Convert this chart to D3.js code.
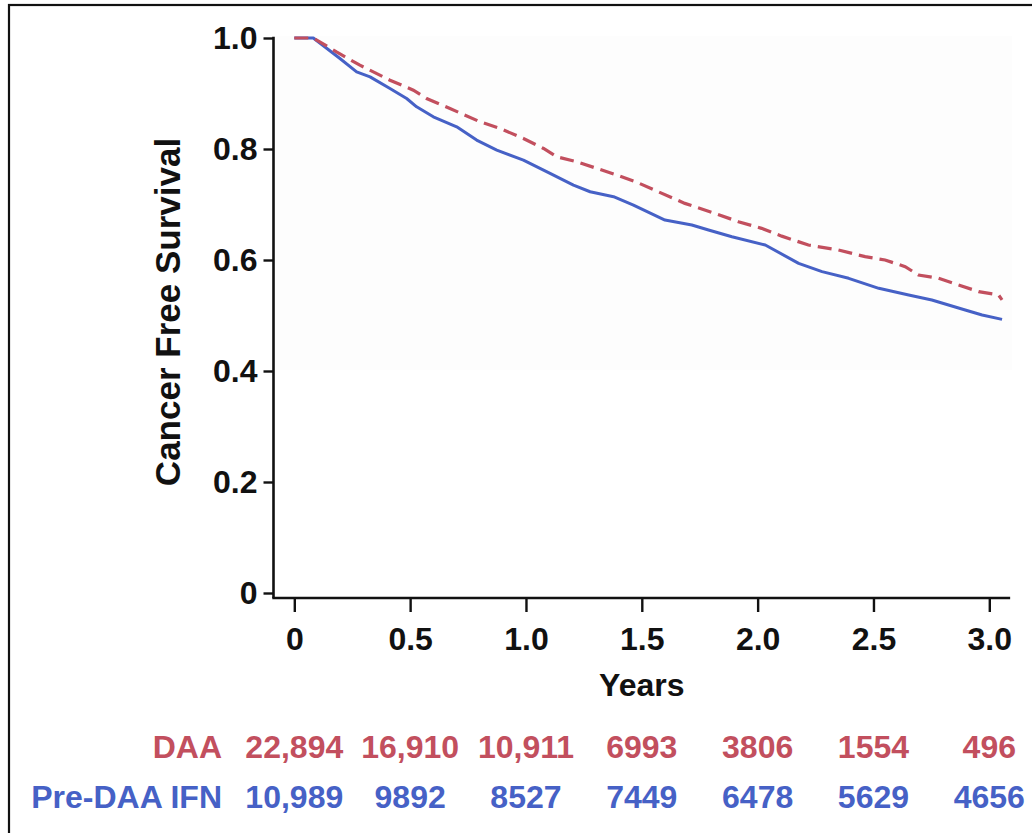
<!DOCTYPE html>
<html>
<head>
<meta charset="utf-8">
<script src="https://cdn.jsdelivr.net/npm/d3@7/dist/d3.min.js"></script>
<style>
  html, body { margin: 0; padding: 0; background: #fff; }
  svg { display: block; font-family: "Liberation Sans", Arial, Helvetica, sans-serif; font-weight: bold; }
</style>
</head>
<body>
<svg id="chart" width="1032" height="833"></svg>
<script>
// Kaplan-Meier cancer-free survival, DAA vs. pre-DAA interferon cohorts
const groups = ["DAA", "Pre-DAA IFN"];
const groupColors = ["#c24f5e", "#4661c6"];

// DAA curve: years, survival
const daaTime = [0, 0.082, 0.182, 0.283, 0.413, 0.514, 0.571, 0.672, 0.802, 0.888, 0.989, 1.076, 1.133, 1.220, 1.306, 1.392, 1.479, 1.571, 1.686, 1.816, 1.917, 2.017, 2.104, 2.219, 2.349, 2.464, 2.550, 2.637, 2.694, 2.781, 2.867, 2.954, 3.040, 3.055];
const daaSurv = [1.0, 1.0, 0.975, 0.951, 0.924, 0.906, 0.891, 0.873, 0.849, 0.837, 0.819, 0.801, 0.786, 0.777, 0.765, 0.753, 0.740, 0.723, 0.702, 0.684, 0.669, 0.657, 0.643, 0.627, 0.618, 0.606, 0.600, 0.588, 0.573, 0.567, 0.555, 0.543, 0.537, 0.528];

// Pre-DAA IFN curve: years, survival
const ifnTime = [0, 0.082, 0.197, 0.269, 0.327, 0.413, 0.485, 0.528, 0.600, 0.701, 0.787, 0.874, 0.989, 1.104, 1.205, 1.277, 1.378, 1.464, 1.600, 1.716, 1.788, 1.889, 2.033, 2.177, 2.278, 2.393, 2.523, 2.652, 2.752, 2.896, 2.969, 3.055];
const ifnSurv = [1.0, 1.0, 0.963, 0.939, 0.930, 0.909, 0.891, 0.876, 0.858, 0.840, 0.816, 0.798, 0.780, 0.756, 0.735, 0.723, 0.714, 0.699, 0.672, 0.663, 0.654, 0.642, 0.627, 0.594, 0.579, 0.567, 0.549, 0.537, 0.528, 0.510, 0.501, 0.493];

// Axis ticks
const xTicks = [0, 0.5, 1.0, 1.5, 2.0, 2.5, 3.0];
const xTickLabels = ["0", "0.5", "1.0", "1.5", "2.0", "2.5", "3.0"];
const yTicks = [0, 0.2, 0.4, 0.6, 0.8, 1.0];
const yTickLabels = ["0", "0.2", "0.4", "0.6", "0.8", "1.0"];

// Numbers at risk at each x tick
const daaAtRisk = ["22,894", "16,910", "10,911", "6993", "3806", "1554", "496"];
const ifnAtRisk = ["10,989", "9892", "8527", "7449", "6478", "5629", "4656"];

const svg = d3.select("#chart");

// frame
svg.append("rect")
  .attr("x", 9).attr("y", 5).attr("width", 1100).attr("height", 900)
  .attr("fill", "none").attr("stroke", "#111").attr("stroke-width", 2.2);

const x = d3.scaleLinear().domain([0, 3]).range([294.3, 989.3]);
const y = d3.scaleLinear().domain([0, 1]).range([593, 38]);
const axisX0 = 273.5;      // y-axis position
const axisY0 = 598;        // x-axis position
const xEnd = 3.09;

// faint plot-area tint
svg.append("rect")
  .attr("x", axisX0 + 2).attr("y", 36)
  .attr("width", x(xEnd) - axisX0).attr("height", 334)
  .attr("fill", "#fdfdfd");

// y axis
const yAxis = d3.axisLeft(y).tickValues(yTicks)
  .tickFormat((d, i) => yTickLabels[i]).tickSize(10).tickPadding(6);
const gy = svg.append("g").attr("transform", `translate(${axisX0},0)`).call(yAxis);
gy.select(".domain").remove();
gy.append("line").attr("x1", 0).attr("x2", 0).attr("y1", y(1) - 1.2).attr("y2", axisY0)
  .attr("stroke", "#111").attr("stroke-width", 2.6);
gy.selectAll(".tick line").attr("stroke", "#111").attr("stroke-width", 2.4);
gy.selectAll(".tick text").attr("fill", "#111").style("font-size", "32px")
  .style("font-weight", "bold").style("font-family", "'Liberation Sans', Arial, sans-serif");

// x axis
const xAxis = d3.axisBottom(x).tickValues(xTicks)
  .tickFormat((d, i) => xTickLabels[i]).tickSize(14).tickPadding(15);
const gx = svg.append("g").attr("transform", `translate(0,${axisY0})`).call(xAxis);
gx.select(".domain").remove();
gx.append("line").attr("x1", axisX0 - 1.2).attr("x2", x(xEnd)).attr("y1", 0).attr("y2", 0)
  .attr("stroke", "#111").attr("stroke-width", 2.6);
gx.selectAll(".tick line").attr("stroke", "#111").attr("stroke-width", 2.4);
gx.selectAll(".tick text").attr("fill", "#111").style("font-size", "32px")
  .style("font-weight", "bold").style("font-family", "'Liberation Sans', Arial, sans-serif");

// axis titles
svg.append("text")
  .attr("x", (axisX0 + x(xEnd)) / 2).attr("y", 696)
  .attr("text-anchor", "middle").attr("fill", "#111")
  .style("font-size", "32px").text("Years");
svg.append("text")
  .attr("transform", "translate(180,312) rotate(-90)")
  .attr("text-anchor", "middle").attr("fill", "#111")
  .style("font-size", "35px").text("Cancer Free Survival");

// survival curves
const line = d3.line().x(d => x(d[0])).y(d => y(d[1]));
const daaPts = daaTime.map((t, i) => [t, daaSurv[i]]);
const ifnPts = ifnTime.map((t, i) => [t, ifnSurv[i]]);

svg.append("path").datum(ifnPts)
  .attr("d", line).attr("fill", "none")
  .attr("stroke", groupColors[1]).attr("stroke-width", 3)
  .attr("stroke-linejoin", "round");
svg.append("path").datum(daaPts)
  .attr("d", line).attr("fill", "none")
  .attr("stroke", groupColors[0]).attr("stroke-width", 3.2)
  .attr("stroke-dasharray", "14 7");

// numbers at risk
const rows = [daaAtRisk, ifnAtRisk];
const rowY = [758, 808];
rows.forEach((vals, r) => {
  svg.append("text")
    .attr("x", 222).attr("y", rowY[r]).attr("text-anchor", "end")
    .attr("fill", groupColors[r]).style("font-size", "32px").text(groups[r]);
  svg.selectAll(null).data(vals).enter().append("text")
    .attr("x", (d, i) => x(xTicks[i])).attr("y", rowY[r])
    .attr("text-anchor", "middle").attr("fill", groupColors[r])
    .style("font-size", "32px").text(d => d);
});
</script>
</body>
</html>
